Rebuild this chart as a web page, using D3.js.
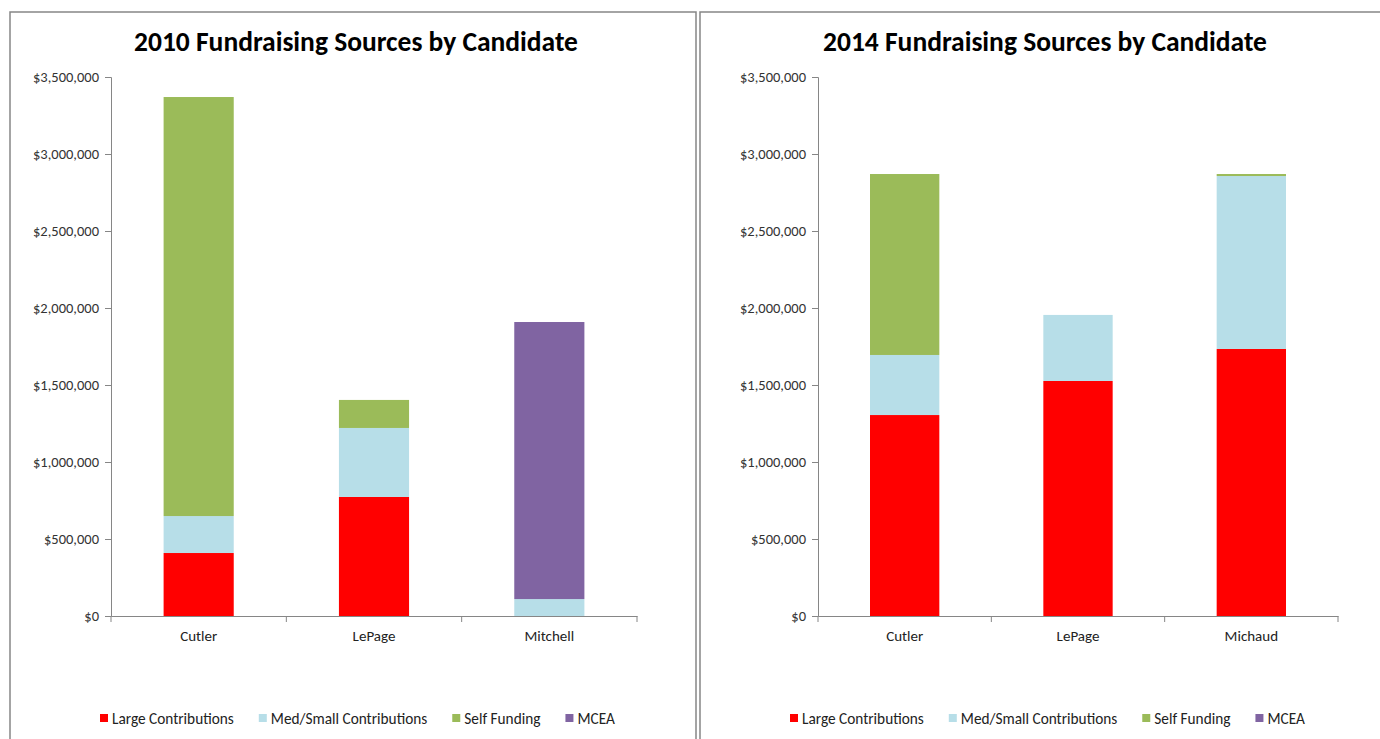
<!DOCTYPE html>
<html>
<head>
<meta charset="utf-8">
<script src="https://cdn.jsdelivr.net/npm/d3@7"></script>
<style>
  body { margin: 0; background: #fff; }
  svg { display: block; }
  text { font-family: Carlito, Lato, "Open Sans", sans-serif; }
</style>
</head>
<body>
<svg id="chart" width="1380" height="739"></svg>
<script>
// series names and colours (legend order)
var seriesNames = ['Large Contributions', 'Med/Small Contributions', 'Self Funding', 'MCEA'];
var seriesColors = ['#ff0000', '#b7dee8', '#9bbb59', '#8064a2'];

// 2010 values, per candidate
var candidates2010 = ['Cutler', 'LePage', 'Mitchell'];
var large2010 = [409000, 773000, 0];
var medSmall2010 = [240000, 448000, 110000];
var self2010 = [2721000, 182000, 0];
var mcea2010 = [0, 0, 1799000];

// 2014 values, per candidate
var candidates2014 = ['Cutler', 'LePage', 'Michaud'];
var large2014 = [1305000, 1526000, 1734000];
var medSmall2014 = [390000, 429000, 1123000];
var self2014 = [1175000, 0, 13000];
var mcea2014 = [0, 0, 0];

var yTicks = [0, 500000, 1000000, 1500000, 2000000, 2500000, 3000000, 3500000];

var svg = d3.select('#chart');
var fmt = d3.format('$,.0f');
var FONT = 'Carlito, Lato, "Open Sans", sans-serif';

function drawPanel(opts) {
    var g = svg.append('g');

    // frame
    g.append('rect')
        .attr('x', opts.frame[0]).attr('y', opts.frame[1])
        .attr('width', opts.frame[2]).attr('height', opts.frame[3])
        .attr('fill', '#fff').attr('stroke', '#868686').attr('stroke-width', 1.5);

    g.append('text')
        .attr('x', opts.titleX).attr('y', 51)
        .attr('text-anchor', 'middle')
        .attr('font-size', 27.5).attr('font-weight', 'bold').attr('fill', '#000')
        .text(opts.title);

    var rows = opts.categories.map(function (c, i) {
        return {
            cat: c,
            'Large Contributions': opts.values[0][i],
            'Med/Small Contributions': opts.values[1][i],
            'Self Funding': opts.values[2][i],
            'MCEA': opts.values[3][i]
        };
    });
    var stacked = d3.stack().keys(seriesNames)(rows);

    var x = d3.scaleBand().domain(opts.categories).range([opts.left, opts.right]);
    var y = d3.scaleLinear().domain([0, 3500000]).range([616, 77]);
    var barW = x.bandwidth() * 0.4;

    stacked.forEach(function (layer, si) {
        g.append('g').selectAll('rect').data(layer).enter().append('rect')
            .attr('x', function (d) { return x(d.data.cat) + (x.bandwidth() - barW) / 2; })
            .attr('width', barW)
            .attr('y', function (d) { return y(d[1]); })
            .attr('height', function (d) { return y(d[0]) - y(d[1]); })
            .attr('fill', seriesColors[si]);
    });

    // y axis
    var ya = g.append('g').attr('transform', 'translate(' + opts.left + ',0)')
        .call(d3.axisLeft(y).tickValues(yTicks).tickFormat(fmt).tickSize(6).tickPadding(6));
    ya.select('.domain').attr('stroke', '#868686');
    ya.selectAll('.tick line').attr('stroke', '#868686');
    ya.selectAll('.tick text').attr('font-size', 14.5).attr('fill', '#333')
        .style('font-family', FONT);

    // x axis
    var xa = g.append('g').attr('transform', 'translate(0,616)')
        .call(d3.axisBottom(x).tickSize(0).tickPadding(14));
    xa.select('.domain').attr('stroke', '#868686');
    xa.selectAll('.tick text').attr('font-size', 15).attr('fill', '#222')
        .style('font-family', FONT);
    // category separator ticks
    g.append('g').selectAll('line').data(d3.range(opts.categories.length + 1)).enter().append('line')
        .attr('x1', function (i) { return opts.left + i * x.step(); })
        .attr('x2', function (i) { return opts.left + i * x.step(); })
        .attr('y1', 616).attr('y2', 622)
        .attr('stroke', '#868686');

    // legend
    var lg = g.append('g').attr('transform', 'translate(0,719)');
    var items = lg.selectAll('g').data(seriesNames).enter().append('g');
    items.append('rect').attr('width', 8).attr('height', 8).attr('y', -5)
        .attr('fill', function (d, i) { return seriesColors[i]; });
    items.append('text').attr('x', 12).attr('y', 5).attr('font-size', 15.3).attr('fill', '#222')
        .text(function (d) { return d; });
    var pos = opts.legendX;
    items.each(function () {
        var it = d3.select(this);
        it.attr('transform', 'translate(' + pos + ',0)');
        pos += 12 + it.select('text').node().getComputedTextLength() + 25;
    });
}

drawPanel({
    title: '2010 Fundraising Sources by Candidate',
    titleX: 356,
    frame: [10, 12, 686, 760],
    left: 111, right: 637,
    categories: candidates2010,
    values: [large2010, medSmall2010, self2010, mcea2010],
    legendX: 100
});

drawPanel({
    title: '2014 Fundraising Sources by Candidate',
    titleX: 1045,
    frame: [700, 12, 720, 760],
    left: 818, right: 1338,
    categories: candidates2014,
    values: [large2014, medSmall2014, self2014, mcea2014],
    legendX: 790
});
</script>
</body>
</html>
